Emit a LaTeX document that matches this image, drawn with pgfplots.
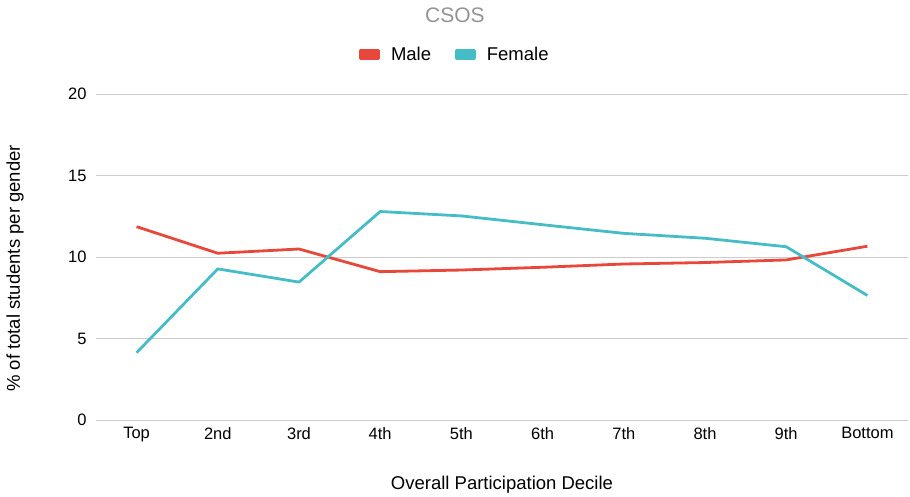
\documentclass[border=0pt]{standalone}
\usepackage{pgfplots}
\pgfplotsset{compat=1.18}
\usepackage{fontspec}
\setmainfont{Liberation Sans}
\definecolor{male}{HTML}{E8473B}
\definecolor{female}{HTML}{46BDC6}
\definecolor{gridc}{HTML}{CCCCCC}
\begin{document}
\begin{tikzpicture}
\useasboundingbox (-96pt,-77pt) rectangle (814pt,420pt);
\begin{axis}[
  at={(0pt,0pt)}, anchor=south west,
  scale only axis,
  width=812pt, height=326pt,
  xmin=-0.5, xmax=9.5,
  ymin=0, ymax=20,
  ytick={0,5,10,15,20},
  xtick={0,...,9},
  xticklabels={Top,2nd,3rd,4th,5th,6th,7th,8th,9th,Bottom},
  major tick length=0pt,
  axis line style={draw=none},
  ymajorgrids,
  grid style={gridc, line width=0.8pt},
  /pgf/number format/assume math mode=true,
  tick label style={font=\fontsize{16.5}{19}\selectfont, black},
  yticklabel style={xshift=-6pt},
  xticklabel style={yshift=-4pt},
  xlabel={Overall Participation Decile},
  ylabel={\% of total students per gender},
  label style={font=\fontsize{18.5}{22}\selectfont},
  xlabel style={at={(axis description cs:0.5,-0.199)}, anchor=center},
  ylabel style={at={(axis description cs:-0.0998,0.465)}, anchor=center},
  title={CSOS},
  title style={at={(axis description cs:0.442,1.224)}, anchor=center, font=\fontsize{21}{25}\selectfont, color=black!42},
  legend style={at={(axis description cs:0.442,1.12)}, anchor=center, draw=none, legend columns=2,
    font=\fontsize{18.5}{22}\selectfont,
    /tikz/every odd column/.append style={column sep=9pt},
    /tikz/every even column/.append style={column sep=22pt}},
  legend image code/.code={\fill[#1] (0pt,-4pt) rectangle (18pt,4pt);},
]
\addplot[male, line width=2.8pt, line join=round] coordinates {
(0,11.86) (1,10.23) (2,10.49) (3,9.10) (4,9.20) (5,9.37) (6,9.57) (7,9.66) (8,9.82) (9,10.66)};
\addlegendentry{Male}
\addplot[female, line width=2.8pt, line join=round] coordinates {
(0,4.13) (1,9.27) (2,8.46) (3,12.79) (4,12.52) (5,11.98) (6,11.45) (7,11.15) (8,10.63) (9,7.64)};
\addlegendentry{Female}
\end{axis}
\end{tikzpicture}
\end{document}
